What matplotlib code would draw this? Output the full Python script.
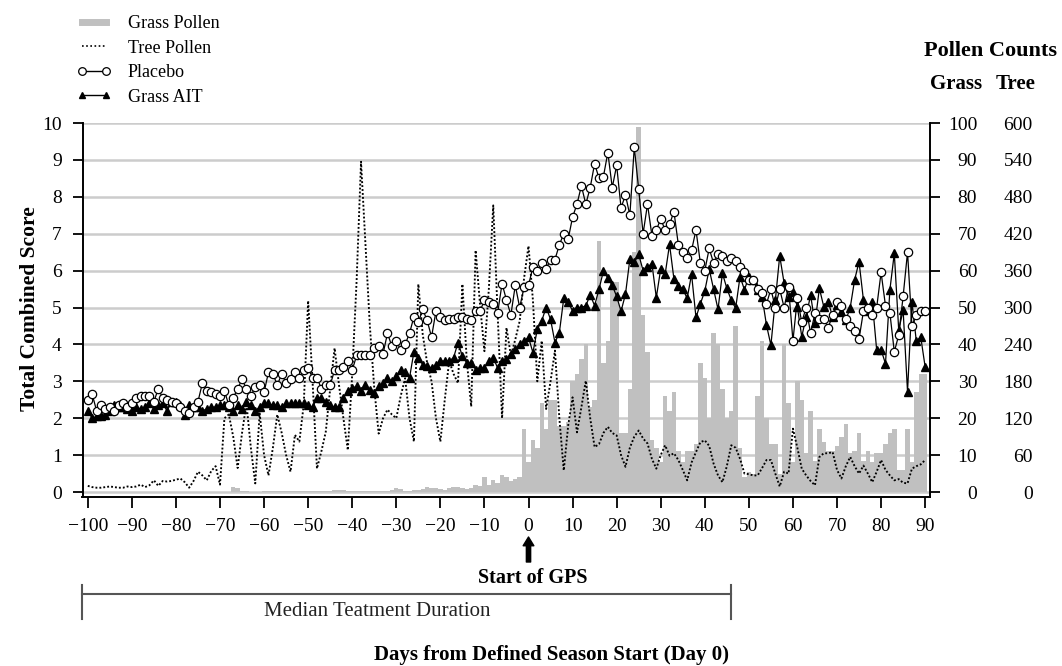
import numpy as np
import matplotlib
matplotlib.use('agg')
import matplotlib.pyplot as plt
import matplotlib.transforms as mtransforms
from matplotlib.lines import Line2D

# days from defined season start
days = np.arange(-100, 91)

# total combined score, placebo group (one value per day)
placebo = [
    2.50, 2.65, 2.20, 2.35, 2.25, 2.30, 2.20, 2.35, 2.40, 2.30,   # -100..-91
    2.40, 2.55, 2.60, 2.60, 2.60, 2.45, 2.80, 2.55, 2.50, 2.45,   # -90..-81
    2.40, 2.30, 2.20, 2.15, 2.30, 2.45, 2.95, 2.75, 2.70, 2.65,   # -80..-71
    2.60, 2.75, 2.35, 2.55, 2.80, 3.05, 2.80, 2.60, 2.85, 2.90,   # -70..-61
    2.70, 3.25, 3.20, 2.90, 3.20, 2.95, 3.05, 3.25, 3.10, 3.30,   # -60..-51
    3.35, 3.10, 3.10, 2.80, 2.90, 2.90, 3.30, 3.30, 3.40, 3.55,   # -50..-41
    3.30, 3.70, 3.70, 3.70, 3.70, 3.90, 3.95, 3.75, 4.30, 3.95,   # -40..-31
    4.10, 3.85, 4.00, 4.30, 4.75, 4.60, 4.95, 4.65, 4.20, 4.90,   # -30..-21
    4.75, 4.65, 4.70, 4.70, 4.75, 4.75, 4.70, 4.65, 4.90, 4.90,   # -20..-11
    5.20, 5.15, 5.10, 4.85, 5.65, 5.20, 4.80, 5.60, 5.00, 5.55,   # -10..-1
    5.60, 6.10, 6.00, 6.20, 6.05, 6.30, 6.30, 6.70, 7.00, 6.85,   # 0..9
    7.45, 7.80, 8.30, 7.80, 8.25, 8.90, 8.50, 8.55, 9.20, 8.25,   # 10..19
    8.85, 7.70, 8.05, 7.50, 9.35, 8.20, 7.00, 7.80, 6.95, 7.10,   # 20..29
    7.40, 7.10, 7.25, 7.60, 6.70, 6.50, 6.35, 6.55, 7.10, 6.20,   # 30..39
    6.00, 6.60, 6.20, 6.45, 6.40, 6.25, 6.35, 6.25, 6.10, 5.95,   # 40..49
    5.75, 5.75, 5.50, 5.40, 5.10, 5.50, 5.00, 5.50, 5.00, 5.55,   # 50..59
    4.10, 5.25, 4.60, 5.00, 4.30, 4.85, 4.70, 4.70, 4.45, 4.80,   # 60..69
    5.15, 5.05, 4.70, 4.50, 4.35, 4.15, 4.90, 5.00, 4.80, 5.00,   # 70..79
    5.95, 5.05, 4.85, 3.80, 4.25, 5.30, 6.50, 4.50, 4.80, 4.90, 4.90,  # 80..90
]

# total combined score, grass AIT group
grass_ait = [
    2.20, 2.00, 2.05, 2.05, 2.10, 2.20, 2.35, 2.30, 2.30, 2.25,   # -100..-91
    2.20, 2.30, 2.25, 2.30, 2.40, 2.25, 2.35, 2.40, 2.20, 2.45,   # -90..-81
    2.45, 2.35, 2.10, 2.35, 2.30, 2.30, 2.20, 2.25, 2.30, 2.30,   # -80..-71
    2.35, 2.35, 2.30, 2.20, 2.35, 2.25, 2.45, 2.35, 2.20, 2.30,   # -70..-61
    2.40, 2.40, 2.35, 2.35, 2.30, 2.40, 2.40, 2.40, 2.40, 2.40,   # -60..-51
    2.35, 2.30, 2.55, 2.55, 2.45, 2.35, 2.30, 2.30, 2.55, 2.73,   # -50..-41
    2.82, 2.86, 2.75, 2.91, 2.77, 2.68, 2.86, 2.95, 3.09, 3.00,   # -40..-31
    3.14, 3.32, 3.25, 3.09, 3.80, 3.64, 3.45, 3.41, 3.36, 3.45,   # -30..-21
    3.55, 3.55, 3.55, 3.64, 4.05, 3.68, 3.50, 3.50, 3.32, 3.36,   # -20..-11
    3.36, 3.55, 3.64, 3.36, 3.55, 3.60, 3.74, 3.87, 4.00, 4.10,   # -10..-1
    4.19, 3.78, 4.41, 4.64, 5.00, 4.68, 4.05, 4.32, 5.25, 5.14,   # 0..9
    4.91, 5.00, 5.00, 5.05, 5.34, 5.05, 5.50, 5.99, 5.80, 5.60,   # 10..19
    5.30, 4.90, 5.36, 6.31, 6.22, 6.44, 6.00, 6.10, 6.19, 5.27,   # 20..29
    6.05, 5.90, 6.71, 5.77, 5.59, 5.50, 5.25, 5.90, 4.73, 5.10,   # 30..39
    5.45, 6.04, 5.50, 4.95, 5.93, 5.52, 5.20, 4.98, 5.84, 5.48,   # 40..49
    5.84, 5.75, 5.48, 5.29, 4.52, 3.98, 5.20, 6.40, 5.66, 5.29,   # 50..59
    5.43, 5.02, 4.21, 4.75, 5.34, 4.57, 5.52, 5.02, 5.16, 4.75,   # 60..69
    5.07, 4.89, 4.66, 5.00, 5.75, 6.24, 5.20, 4.90, 5.16, 3.85,   # 70..79
    3.85, 3.48, 5.48, 6.47, 4.39, 4.93, 2.72, 5.16, 4.08, 4.20, 3.39,  # 80..90
]

# tree pollen counts (right axis, 0-600)
tree_pollen = [
    10, 8, 7, 7, 8, 9, 8, 7, 7, 9,                # -100..-91
    8, 9, 12, 8, 11, 19, 10, 18, 17, 18,          # -90..-81
    20, 22, 16, 7, 18, 33, 27, 19, 34, 42,        # -80..-71
    12, 120, 126, 90, 39, 96, 144, 72, 14, 128,   # -70..-61
    60, 27, 72, 126, 96, 60, 33, 93, 82, 142,     # -60..-51
    311, 180, 38, 66, 98, 168, 234, 174, 120, 68,     # -50..-41
    192, 344, 537, 404, 270, 169, 95, 120, 134, 126,  # -40..-31
    120, 156, 185, 120, 82, 338, 256, 210, 180, 120,  # -30..-21
    82, 150, 213, 192, 177, 338, 213, 139, 393, 305,  # -20..-11
    229, 330, 466, 289, 120, 267, 222, 248, 278, 348, # -10..-1
    400, 312, 180, 246, 135, 180, 230, 120, 35, 108,  # 0..9
    154, 97, 138, 181, 120, 73, 78, 96, 106, 96,      # 10..19
    92, 60, 41, 72, 90, 100, 87, 79, 54, 38,      # 20..29
    60, 76, 59, 63, 52, 36, 19, 48, 65, 81,       # 30..39
    84, 75, 46, 27, 16, 42, 76, 72, 54, 30,       # 40..49
    29, 27, 27, 39, 52, 52, 30, 9, 33, 30,        # 50..59
    103, 72, 38, 27, 18, 11, 57, 63, 63, 65,      # 60..69
    36, 22, 42, 57, 42, 30, 43, 30, 16, 33,       # 70..79
    52, 36, 27, 19, 21, 15, 14, 38, 42, 45, 52,   # 80..90
]

# grass pollen counts (right axis, 0-100)
grass_pollen = [
    0, 0, 0, 0, 0, 0, 0, 0, 0, 0,                 # -100..-91
    0, 0, 0, 0, 0, 0, 0, 0, 0, 0,                 # -90..-81
    0, 0, 0, 0, 0, 0, 0, 0, 0, 0,                 # -80..-71
    0, 0, 0, 1.4, 1.0, 0.4, 0.2, 0, 0, 0,         # -70..-61
    0.2, 0.2, 0.2, 0.3, 0.3, 0.2, 0.2, 0.3, 0.2, 0.2,   # -60..-51
    0.2, 0.2, 0.3, 0.3, 0.2, 0.3, 0.5, 0.5, 0.5, 0.3,   # -50..-41
    0.2, 0.2, 0.2, 0.3, 0.3, 0.2, 0.3, 0.2, 0.3, 0.5,   # -40..-31
    1.0, 0.8, 0.4, 0.3, 0.6, 0.5, 0.8, 1.4, 1.0, 1.0,   # -30..-21
    0.8, 0.5, 1.0, 1.4, 1.3, 1.2, 0.8, 1.0, 1.8, 1.5,   # -20..-11
    4.0, 1.8, 3.2, 2.5, 4.5, 4.0, 3.0, 3.5, 4.0, 17,    # -10..-1
    8, 14, 12, 24, 17, 25, 25, 18, 18, 19,        # 0..9
    30, 32, 36, 40, 23, 25, 68, 35, 41, 57,       # 10..19
    57, 16, 16, 28, 65, 99, 48, 38, 14, 12,       # 20..29
    8, 26, 22, 27, 11, 8, 11, 11, 13, 35,         # 30..39
    31, 20, 43, 40, 28, 20, 22, 45, 12, 4,        # 40..49
    5.5, 5, 26, 41, 20, 13, 13, 5, 40, 24,        # 50..59
    8, 30, 25, 10.5, 22, 8.5, 17, 13.5, 11, 11,   # 60..69
    12.5, 15, 18.5, 10.5, 11, 16, 8.5, 11, 8, 10.5,     # 70..79
    10.5, 13, 16, 17, 6, 6, 17, 8, 27, 32, 32,    # 80..90
]

score_ticks = list(range(0, 11))
grass_ticks = list(range(0, 101, 10))
tree_ticks = list(range(0, 601, 60))
day_ticks = list(range(-100, 91, 10))

GRASS_MAX = 100.
TREE_MAX = 600.
SCORE_MAX = 10.

plt.rcParams['font.family'] = ['Liberation Serif', 'DejaVu Serif']
plt.rcParams['font.size'] = 14

W, H = 1062., 666.
fig = plt.figure(figsize=(W / 100, H / 100), dpi=100)
# axes box in pixels: left 82.5, right 930, top (score 10) 123, bottom 497
ax = fig.add_axes([82.5 / W, 1 - 497 / H, (930 - 82.5) / W, (497 - 123) / H])

ymin = -0.135
ax.bar(days, np.array(grass_pollen) * SCORE_MAX / GRASS_MAX, width=1.0,
       color='#c0c0c0', linewidth=0, zorder=2)
ax.plot(days, np.array(tree_pollen) * SCORE_MAX / TREE_MAX, color='k',
        lw=1.35, ls=(0, (1, 1.1)), zorder=3)
ax.plot(days, grass_ait, color='k', lw=0.9, marker='^', ms=5.5,
        mfc='k', mec='k', zorder=4)
ax.plot(days, placebo, color='k', lw=0.9, marker='o', ms=6,
        mfc='white', mec='k', mew=0.9, zorder=5)

ax.set_xlim(-101.2, 91.1)
ax.set_ylim(ymin, 10)
ax.set_xticks(day_ticks)
ax.set_yticks(score_ticks)
ax.yaxis.grid(True, color='#cccccc', lw=1.8)
ax.set_axisbelow(True)
for s in ['top', 'right']:
    ax.spines[s].set_visible(False)
for s in ['left', 'bottom']:
    ax.spines[s].set_linewidth(1.4)
ax.tick_params(axis='y', direction='out', length=7, width=1.3, pad=8, labelsize=14)
ax.tick_params(axis='x', direction='out', length=8, width=1.3, pad=7, labelsize=14)

# grass pollen scale
ax2 = ax.twinx()
ax2.set_ylim(ymin * GRASS_MAX / SCORE_MAX, GRASS_MAX)
ax2.set_yticks(grass_ticks)
for s in ['top', 'left', 'bottom']:
    ax2.spines[s].set_visible(False)
ax2.spines['right'].set_linewidth(1.4)
ax2.tick_params(axis='y', direction='out', length=7, width=1.3, pad=27, labelsize=14)
for lbl in ax2.get_yticklabels():
    lbl.set_horizontalalignment('right')

# tree pollen scale
ax3 = ax.twinx()
ax3.set_ylim(ymin * TREE_MAX / SCORE_MAX, TREE_MAX)
ax3.set_yticks(tree_ticks)
for s in ax3.spines.values():
    s.set_visible(False)
ax3.tick_params(axis='y', length=0, pad=74, labelsize=14)
for lbl in ax3.get_yticklabels():
    lbl.set_horizontalalignment('right')

# legend
handles = [
    Line2D([], [], color='#c0c0c0', lw=5),
    Line2D([], [], color='k', lw=1.2, ls=(0, (1, 1.5))),
    Line2D([], [], color='k', lw=1, marker='o', ms=5.5, mfc='white', mew=0.9),
    Line2D([], [], color='k', lw=1, marker='^', ms=5),
]
labels = ['Grass Pollen', 'Tree Pollen', 'Placebo', 'Grass AIT']
fig.legend(handles, labels, loc='upper left', bbox_to_anchor=(77 / W, 1 - 15 / H),
           frameon=False, numpoints=2, handlelength=1.9, handletextpad=0.9,
           labelspacing=0.42, borderaxespad=0, borderpad=0, fontsize=13)

# texts
fig.text(30 / W, 1 - 309 / H, 'Total Combined Score', rotation=90, ha='center',
         va='center', fontweight='bold', fontsize=15.5)
fig.text(552 / W, 1 - 655 / H, 'Days from Defined Season Start (Day 0)',
         ha='center', va='center', fontweight='bold', fontsize=15)
fig.text(990 / W, 1 - 51 / H, 'Pollen Counts', ha='center', va='center',
         fontweight='bold', fontsize=16)
fig.text(956 / W, 1 - 84 / H, 'Grass', ha='center', va='center',
         fontweight='bold', fontsize=15)
fig.text(1016 / W, 1 - 84 / H, 'Tree', ha='center', va='center',
         fontweight='bold', fontsize=15)
fig.text(533 / W, 1 - 578 / H, 'Start of GPS', ha='center', va='center',
         fontweight='bold', fontsize=14.5)

# arrow at day 0
ax.annotate('', xy=(0, 1 - 537 / H), xytext=(0, 1 - 562 / H),
            xycoords=('data', 'figure fraction'), textcoords=('data', 'figure fraction'),
            arrowprops=dict(arrowstyle='simple,head_length=0.45,head_width=0.55,tail_width=0.22',
                            fc='k', ec='k', mutation_scale=14, shrinkA=0, shrinkB=0),
            annotation_clip=False)

# median treatment duration bracket
trans = mtransforms.blended_transform_factory(ax.transData, fig.transFigure)
bracket_end = 46
for xs, ys in [([-101.2, bracket_end], [1 - 594 / H, 1 - 594 / H]),
               ([-101.2, -101.2], [1 - 585 / H, 1 - 619 / H]),
               ([bracket_end, bracket_end], [1 - 585 / H, 1 - 619 / H])]:
    fig.add_artist(Line2D(xs, ys, transform=trans, color='#555555', lw=1.5))
fig.text(377 / W, 1 - 611 / H, 'Median Teatment Duration', ha='center', va='center',
         fontsize=15, color='#222222')

fig.savefig('out.png', dpi=100)
